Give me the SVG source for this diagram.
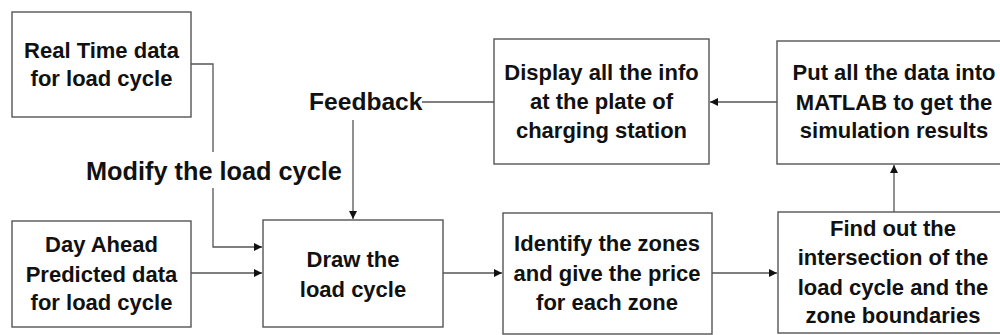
<svg xmlns="http://www.w3.org/2000/svg" width="1000" height="335" viewBox="0 0 1000 335">
  <style>
    .box { fill: #ffffff; stroke: #555555; stroke-width: 1.4; }
    .lbl { font-family: "Liberation Sans", Arial, sans-serif; font-weight: bold; font-size: 22px; fill: #111111; text-anchor: middle; }
    .big { font-family: "Liberation Sans", Arial, sans-serif; font-weight: bold; font-size: 24.6px; fill: #111111; }
    .wire { fill: none; stroke: #555555; stroke-width: 1.3; }
  </style>
  <defs>
    <marker id="arrow" viewBox="0 0 10 10" refX="10" refY="5" markerWidth="8" markerHeight="8" markerUnits="userSpaceOnUse" orient="auto">
      <path d="M0,0 L10,5 L0,10 Z" fill="#111111"/>
    </marker>
  </defs>
  <rect width="1000" height="335" fill="#ffffff"/>

  <g id="connectors">
    <!-- real-time data feeds the load cycle drawing -->
    <polyline class="wire" points="191,64 213,64 213,152"/>
    <polyline class="wire" points="213,188 213,247 262,247" marker-end="url(#arrow)"/>
    <!-- day-ahead data -->
    <line class="wire" x1="191" y1="273" x2="262" y2="273" marker-end="url(#arrow)"/>
    <!-- main chain -->
    <line class="wire" x1="443" y1="273" x2="502" y2="273" marker-end="url(#arrow)"/>
    <line class="wire" x1="712" y1="273" x2="777" y2="273" marker-end="url(#arrow)"/>
    <line class="wire" x1="894" y1="212" x2="894" y2="165" marker-end="url(#arrow)"/>
    <line class="wire" x1="777" y1="102" x2="710" y2="102" marker-end="url(#arrow)"/>
    <!-- feedback loop -->
    <line class="wire" x1="494" y1="102" x2="422" y2="102"/>
    <line class="wire" x1="353" y1="120" x2="353" y2="219" marker-end="url(#arrow)"/>
  </g>

  <g id="label-feedback">
    <text class="big" x="309" y="110">Feedback</text>
  </g>
  <g id="label-modify">
    <text class="big" x="86" y="180" style="font-size:25.3px">Modify the load cycle</text>
  </g>

  <g id="real-time">
    <rect class="box" x="12" y="12" width="179" height="105"/>
    <text class="lbl" x="101.5" y="58">Real Time data</text>
    <text class="lbl" x="101.5" y="86">for load cycle</text>
  </g>

  <g id="day-ahead">
    <rect class="box" x="12" y="221" width="179" height="106"/>
    <text class="lbl" x="101.5" y="252">Day Ahead</text>
    <text class="lbl" x="101.5" y="282">Predicted data</text>
    <text class="lbl" x="101.5" y="310">for load cycle</text>
  </g>

  <g id="draw-cycle">
    <rect class="box" x="263" y="220" width="180" height="107"/>
    <text class="lbl" x="353" y="267">Draw the</text>
    <text class="lbl" x="353" y="297">load cycle</text>
  </g>

  <g id="identify-zones">
    <rect class="box" x="503" y="213" width="209" height="121"/>
    <text class="lbl" x="607" y="251">Identify the zones</text>
    <text class="lbl" x="607" y="281">and give the price</text>
    <text class="lbl" x="607" y="310">for each zone</text>
  </g>

  <g id="find-intersection">
    <rect class="box" x="778" y="212" width="232" height="121"/>
    <text class="lbl" x="893" y="236">Find out the</text>
    <text class="lbl" x="893" y="265">intersection of the</text>
    <text class="lbl" x="893" y="295">load cycle and the</text>
    <text class="lbl" x="893" y="323">zone boundaries</text>
  </g>

  <g id="matlab">
    <rect class="box" x="777" y="41" width="233" height="123"/>
    <text class="lbl" x="894" y="80">Put all the data into</text>
    <text class="lbl" x="894" y="110">MATLAB to get the</text>
    <text class="lbl" x="894" y="138">simulation results</text>
  </g>

  <g id="display">
    <rect class="box" x="494" y="39" width="215" height="125"/>
    <text class="lbl" x="601.5" y="80">Display all the info</text>
    <text class="lbl" x="601.5" y="109">at the plate of</text>
    <text class="lbl" x="601.5" y="138">charging station</text>
  </g>
</svg>
